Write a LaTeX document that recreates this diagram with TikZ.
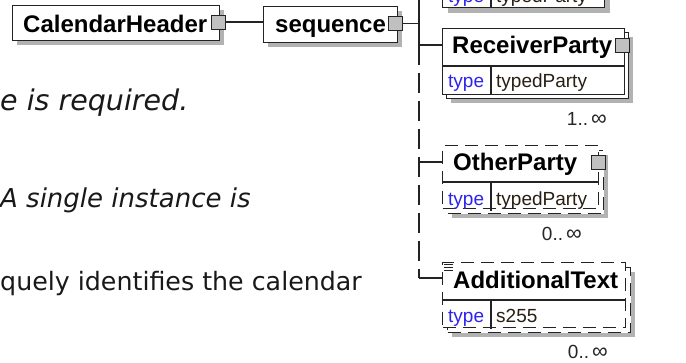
\documentclass[tikz,border=0pt]{standalone}
\usepackage{fontspec}
\setmainfont{Liberation Sans}
\newfontfamily\verd{DejaVu Sans}
\definecolor{shd}{RGB}{178,178,178}
\definecolor{sqf}{RGB}{192,192,192}
\definecolor{edge}{RGB}{35,35,35}
\definecolor{typeblue}{RGB}{45,35,235}
\definecolor{valc}{RGB}{40,30,20}
\newcommand{\infsym}{\hspace{3pt}{\fontsize{22}{22}\selectfont ∞}}
\tikzset{
  box/.style={draw=edge, line width=1.1pt, fill=white, inner sep=0pt, anchor=north west},
  dbox/.style={box, dash pattern=on 13pt off 7pt},
  shadowbox/.style={fill=shd, draw=none, inner sep=0pt, anchor=north west},
  sq/.style={draw=edge, fill=sqf, line width=1pt, minimum width=14pt, minimum height=14pt, inner sep=0pt},
  ename/.style={font=\bfseries\fontsize{24}{24}\selectfont, inner sep=0pt, anchor=base west},
  tlab/.style={font=\fontsize{19}{19}\selectfont, text=typeblue, anchor=base west, inner sep=0pt},
  tval/.style={font=\fontsize{19}{19}\selectfont, text=valc, anchor=base west, inner sep=0pt},
  card/.style={font=\fontsize{19}{19}\selectfont, text=black!85, anchor=base east, inner sep=0pt},
  conn/.style={draw=edge, line width=1.1pt},
  trunkdash/.style={conn, dash pattern=on 20pt off 8pt},
  divl/.style={draw=edge, line width=1.1pt},
  desc/.style={text=black!90, anchor=base west, inner sep=0pt}
}
\begin{document}
\begin{tikzpicture}[x=1pt,y=-1pt]
\useasboundingbox (0,0) rectangle (686,362);
\clip (0,0) rectangle (686,362);
\fill[white] (0,0) rectangle (686,362);

% description texts (cut at left edge)
\node[desc, font=\verd\itshape\fontsize{28.5}{30}\selectfont] (d1) at (0,110) {e is required.};
\node[desc, font=\verd\itshape\fontsize{26}{28}\selectfont] (d2) at (0,207) {A single instance is};
\node[desc, font=\verd\fontsize{25.3}{28}\selectfont] (d3) at (0,290) {quely identifies the calendar};

% CalendarHeader
\node[shadowbox, minimum width=207pt, minimum height=35pt] (chs) at (17,10) {};
\node[box, minimum width=207pt, minimum height=35pt] (ch) at (12,5) {};
\node[ename] (chn) at (23,32) {CalendarHeader};
\node[sq] (chsq) at (218.5,22) {};

% sequence
\node[shadowbox, minimum width=134pt, minimum height=36pt] (seqs) at (268,11) {};
\node[box, minimum width=134pt, minimum height=36pt] (seq) at (263,6) {};
\node[ename] (seqn) at (275,32) {sequence};
\node[sq] (seqsq) at (395.5,23.5) {};

\draw[conn] (chsq.east) -- (chsq.east -| seq.west);

% trunk
\coordinate (ttop) at (419,0);
\coordinate (tj) at (419,45);
\coordinate (tbot) at (419,278);
\draw[conn] (seqsq.east) -- (seqsq.east -| ttop);
\draw[conn] (ttop) -- (tj);
\draw[trunkdash] (tj) -- (tbot);

% SenderParty (cut at top, as in the reference)
\node[shadowbox, minimum width=162pt, minimum height=47pt] (sps) at (448,-34) {};
\node[box, minimum width=162pt, minimum height=47pt] (sp) at (442,-40) {};
\draw[divl] (491,-21) -- (491,7);
\draw[divl] (442,-21) -- (604,-21);
\node[tlab] (spt) at (448,2) {type};
\node[tval] (spv) at (496,2) {typedParty};

% ReceiverParty
\node[shadowbox, minimum width=182pt, minimum height=66pt] (rps) at (451,37) {};
\node[box, minimum width=182pt, minimum height=66pt] (rpb) at (446,32) {};
\node[box, minimum width=182pt, minimum height=66pt] (rp) at (442,28) {};
\draw[divl] (rp.west |- 0,66) -- (rp.east |- 0,66);
\draw[divl] (491,66) -- (491,94);
\node[ename] (rpn) at (452,53) {ReceiverParty};
\node[sq] (rpsq) at (622.5,45) {};
\node[tlab] (rpt) at (448,87) {type};
\node[tval] (rpv) at (496,87) {typedParty};
\node[card] (rpc) at (607,125) {1..\infsym};
\draw[conn] (tj) -- (tj -| rp.west);

% OtherParty
\node[shadowbox, minimum width=156pt, minimum height=63pt] (ops) at (452,155) {};
\node[dbox, minimum width=156pt, minimum height=63pt] (opb) at (447,150) {};
\node[dbox, minimum width=156pt, minimum height=63pt] (op) at (442,145) {};
\draw[divl] (442,182) -- (598,182);
\draw[divl] (491,182) -- (491,211);
\node[ename] (opn) at (453,170.5) {OtherParty};
\node[sq] (opsq) at (598,162.5) {};
\node[tlab] (opt) at (448,205) {type};
\node[tval] (opv) at (496,205) {typedParty};
\node[card] (opc) at (582,240.5) {0..\infsym};
\coordinate (opin) at (442,162);
\draw[conn] (opin -| tj) -- (opin);

% AdditionalText
\node[shadowbox, minimum width=183pt, minimum height=65pt] (ats) at (452,272) {};
\node[dbox, minimum width=183pt, minimum height=65pt] (atb) at (447,267) {};
\node[dbox, minimum width=183pt, minimum height=65pt] (at) at (442,262) {};
\draw[divl] (442,300) -- (625,300);
\draw[divl] (491,300) -- (491,329);
\draw[edge, line width=0.9pt] (444,264) -- (453,264) (444,267) -- (453,267) (444,270) -- (453,270);
\node[ename] (atn) at (453,288) {AdditionalText};
\node[tlab] (att) at (448,322) {type};
\node[tval] (atv) at (496,322) {s255};
\node[card] (atc) at (608,358) {0..\infsym};
\coordinate (atin) at (442,278);
\draw[conn] (tbot) -- (atin);
\end{tikzpicture}
\end{document}
